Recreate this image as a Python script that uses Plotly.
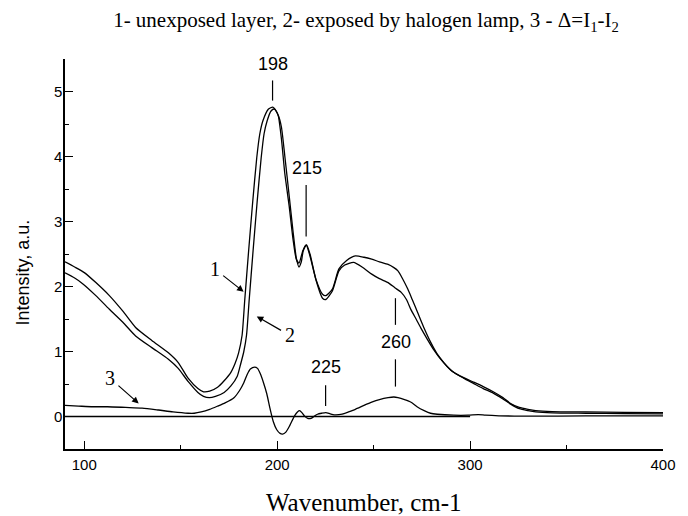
import plotly.graph_objects as go

# ---- data ----
x1 = [90.0, 95, 100.2, 106, 113.0, 120, 126.6, 135, 143.6, 148.7, 153.8, 158.9, 161.8, 165, 169.1,
      172.5, 176, 178.2, 180, 181.8, 183.2, 185.2, 187.3, 189.4, 191, 192.6, 195.5, 197.7, 199.5,
      200.6, 202.2, 203.9, 206.2, 208.2, 209.9, 211.3, 213.3, 215.0, 217.0, 220.1, 223.5, 225.2,
      228.6, 232.0, 236, 240.5, 245, 249.0, 253, 257.5, 260.5, 262.6, 265, 267.7, 270, 272.8, 276,
      279.6, 283, 286.4, 290, 295.0, 301.7, 306.8, 312, 317.0, 321, 325.5, 330, 334.0, 342.6, 360,
      380, 400]
y1 = [2.38, 2.30, 2.21, 2.06, 1.86, 1.62, 1.37, 1.17, 0.98, 0.83, 0.59, 0.43, 0.38, 0.39, 0.45,
      0.55, 0.68, 0.82, 0.98, 1.25, 1.80, 2.55, 3.30, 3.98, 4.35, 4.55, 4.73, 4.76, 4.70,
      4.62, 4.27, 3.75, 3.24, 2.73, 2.42, 2.36, 2.55, 2.64, 2.47, 2.11, 1.88, 1.86,
      1.96, 2.27, 2.40, 2.47, 2.45, 2.42, 2.38, 2.34, 2.29, 2.24, 2.12, 1.96, 1.80, 1.60, 1.37,
      1.14, 0.96, 0.83, 0.71, 0.62, 0.53, 0.46, 0.38, 0.29, 0.20, 0.14, 0.11, 0.09, 0.075, 0.07,
      0.065, 0.06]

x2 = [90.0, 95, 99.3, 106, 113.0, 120, 126.6, 135, 143.6, 148.7, 153.8, 158.9, 161.8, 164.8, 168,
      172.5, 176, 179.3, 181, 182.7, 184.1, 185.5, 187.5, 189.6, 191.7, 193.2, 194.8, 196.8, 198.5,
      200.6, 202.2, 203.9, 206.2, 208.2, 209.9, 211.3, 212.5, 213.5, 215.2, 217.0, 220.1, 223.5,
      225.2, 228.6, 232.0, 235, 239.6, 244, 249.0, 253, 257.5, 261, 264.3, 267, 269.4, 272, 274.5,
      278, 281.3, 284.5, 288.1, 292, 296.6, 301.7, 306.8, 312, 317.0, 321, 325.5, 330, 334.0,
      342.6, 360, 380, 400]
y2 = [2.21, 2.13, 2.04, 1.86, 1.65, 1.45, 1.24, 1.06, 0.88, 0.74, 0.54, 0.37, 0.31, 0.29, 0.31,
      0.37, 0.47, 0.62, 0.80, 1.00, 1.25, 1.80, 2.55, 3.30, 3.98, 4.35, 4.55, 4.70, 4.73,
      4.63, 4.45, 4.02, 3.40, 2.85, 2.44, 2.30, 2.38, 2.55, 2.64, 2.50, 2.10, 1.82,
      1.80, 1.93, 2.24, 2.33, 2.37, 2.30, 2.19, 2.12, 2.06, 1.98, 1.91, 1.80, 1.64, 1.50, 1.36,
      1.18, 1.02, 0.89, 0.77, 0.67, 0.59, 0.51, 0.43, 0.36, 0.27, 0.19, 0.12, 0.09, 0.07,
      0.055, 0.05, 0.045, 0.04]

x3 = [90, 97, 104.4, 112, 121.4, 130, 138.5, 146, 153.8, 157, 160.6, 165, 169.1, 173, 177.6, 180.5,
      182.7, 184.5, 186.1, 188.3, 189.8, 191.2, 192.9, 194.6, 196.3, 198, 199.7, 201.5, 202.8,
      204.5, 206.5, 209.0, 210.5, 211.6, 212.8, 214.1, 215.8, 217.5, 219, 220.9, 223, 225.2,
      227.5, 229.5, 233.7, 237, 240.5, 245, 249.0, 253, 257.5, 260.5, 262.6, 266, 269.4, 272.5,
      276.2, 279.5, 283.0, 291.5, 299, 304.3, 308, 315, 330, 360, 400]
y3 = [0.17, 0.16, 0.15, 0.15, 0.14, 0.13, 0.10, 0.07, 0.05, 0.05, 0.07, 0.11, 0.16, 0.21, 0.29, 0.40,
      0.52, 0.65, 0.73, 0.76, 0.74, 0.66, 0.52, 0.35, 0.12, -0.08, -0.20, -0.26, -0.27,
      -0.24, -0.14, 0.01, 0.07, 0.09, 0.06, 0.01, -0.03, -0.03, 0.0, 0.035, 0.05, 0.06,
      0.04, 0.025, 0.035, 0.07, 0.11, 0.17, 0.22, 0.26, 0.29, 0.30, 0.29, 0.26, 0.22, 0.15,
      0.09, 0.05, 0.035, 0.02, 0.02, 0.03, 0.02, 0.01, 0.005, 0.01, 0.01]

zero_x = [90, 300]
zero_y = [0, 0]

title_text = "1- unexposed layer, 2- exposed by halogen lamp, 3 - \u0394=I<sub>1</sub>-I<sub>2</sub>"
x_title = "Wavenumber, cm-1"
y_title = "Intensity, a.u."

# peak labels: (label, x, text_y)
peak_labels = [("198", 197.6, 5.43), ("215", 215.3, 3.82), ("225", 225.5, 0.76), ("260", 261.7, 1.14)]
peak_lines = [(197.6, 5.17, 4.86), (215.0, 3.56, 2.77), (225.1, 0.48, 0.16),
              (261.3, 1.82, 1.41), (261.3, 0.88, 0.46)]
# curve labels: (label, text x, text y, arrow head x, arrow head y)
curve_labels = [("1", 167.6, 2.27, 182.6, 1.92),
                ("2", 206.4, 1.25, 189.4, 1.54),
                ("3", 113.3, 0.59, 128.2, 0.20)]

SERIF = "Liberation Serif"
SANS = "Liberation Sans"

LW = 1.3
fig = go.Figure()
for xs, ys in [(x1, y1), (x2, y2), (x3, y3), (zero_x, zero_y)]:
    fig.add_trace(go.Scatter(x=xs, y=ys, mode="lines",
                             line=dict(color="black", width=LW, shape="spline", smoothing=0.6),
                             showlegend=False, hoverinfo="skip"))

for lab, x, y in peak_labels:
    fig.add_annotation(x=x, y=y, text=lab, showarrow=False, xref="x", yref="y",
                       font=dict(family=SANS, size=18, color="black"))
for x, ya, yb in peak_lines:
    fig.add_shape(type="line", x0=x, x1=x, y0=ya, y1=yb, xref="x", yref="y",
                  line=dict(color="black", width=1.2))
for lab, tx, ty, hx, hy in curve_labels:
    fig.add_annotation(x=hx, y=hy, ax=tx, ay=ty, axref="x", ayref="y", xref="x", yref="y",
                       text=lab, showarrow=True, arrowhead=2, arrowsize=1.1, arrowwidth=1.2,
                       arrowcolor="black", standoff=0, borderpad=3,
                       font=dict(family=SERIF, size=20, color="black"))

fig.add_annotation(xref="paper", yref="paper", x=0.5, y=-0.136, text=x_title, showarrow=False,
                   xanchor="center", yanchor="middle",
                   font=dict(family=SERIF, size=25, color="black"))
fig.add_annotation(xref="paper", yref="paper", x=-0.0707, y=0.452, text=y_title, showarrow=False,
                   textangle=-90, xanchor="center", yanchor="middle",
                   font=dict(family=SANS, size=18, color="black"))

fig.update_layout(
    width=688, height=516,
    margin=dict(l=65, r=15, t=59, b=67),
    paper_bgcolor="white", plot_bgcolor="white",
    title=dict(text=title_text, xref="container", yref="container", x=366 / 688, y=1 - 20 / 516,
               xanchor="center", yanchor="middle",
               font=dict(family=SERIF, size=21, color="black")),
    xaxis=dict(range=[90, 400], showgrid=False, zeroline=False, showline=True, linecolor="black",
               linewidth=1.5, ticks="inside", ticklen=8, tickwidth=1.3, tickcolor="black",
               tick0=0, dtick=100, ticklabelstandoff=1,
               minor=dict(ticks="inside", ticklen=4, tickwidth=1.3, tickcolor="black", dtick=50, tick0=0),
               tickfont=dict(family=SANS, size=15, color="black")),
    yaxis=dict(range=[-0.5, 5.5], showgrid=False, zeroline=False, showline=True, linecolor="black",
               linewidth=1.5, ticks="inside", ticklen=8, tickwidth=1.3, tickcolor="black",
               tick0=0, dtick=1, ticklabelstandoff=-2,
               minor=dict(ticks="inside", ticklen=4, tickwidth=1.3, tickcolor="black", dtick=0.5, tick0=0),
               tickfont=dict(family=SANS, size=15, color="black")),
)

fig.write_html("out.html")
